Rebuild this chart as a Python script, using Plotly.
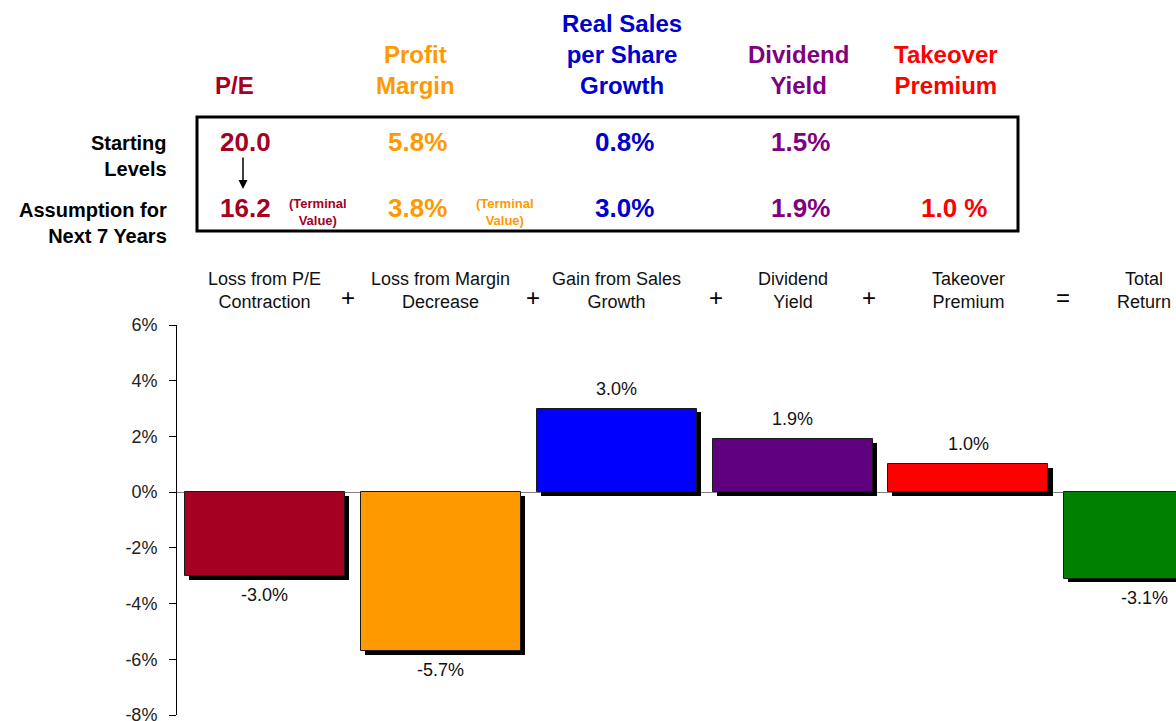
import plotly.graph_objects as go

# ---------------- data ----------------
categories = ["Loss from P/E<br>Contraction", "Loss from Margin<br>Decrease",
              "Gain from Sales<br>Growth", "Dividend<br>Yield",
              "Takeover<br>Premium", "Total<br>Return"]
values = [-3.0, -5.7, 3.0, 1.9, 1.0, -3.1]
value_labels = ["-3.0%", "-5.7%", "3.0%", "1.9%", "1.0%", "-3.1%"]
bar_colors = ["#A50021", "#FF9900", "#0000FF", "#5F007F", "#FF0000", "#008000"]
operators = ["+", "+", "+", "+", "="]

y_ticks = [6, 4, 2, 0, -2, -4, -6, -8]
y_tick_text = ["6%", "4%", "2%", "0%", "-2%", "-4%", "-6%", "-8%"]

table_headers = ["P/E", "Profit<br>Margin", "Real Sales<br>per Share<br>Growth",
                 "Dividend<br>Yield", "Takeover<br>Premium"]
table_colors = ["#A50021", "#FF9900", "#0000CC", "#800080", "#FF0000"]
starting_levels = ["20.0", "5.8%", "0.8%", "1.5%", ""]
assumptions = ["16.2", "3.8%", "3.0%", "1.9%", "1.0 %"]
row_labels = ["Starting<br>Levels", "Assumption for<br>Next 7 Years"]
terminal_note = "(Terminal<br>Value)"

# ---------------- layout geometry (pixels) ----------------
W, H = 1176, 721
L, R, T, B = 177, 0, 325, 6
PW, PH = W - L - R, H - T - B

def px(x):
    return (x - L) / PW

def py(y):
    return (H - B - y) / PH

FONT = "Liberation Sans, Arial, sans-serif"
x_idx = list(range(len(categories)))

fig = go.Figure()

# shadows
fig.add_trace(go.Bar(
    x=[i + 0.023 for i in x_idx], y=values, base=-0.14, width=0.91,
    marker=dict(color="#000000", line=dict(width=0)),
    hoverinfo="skip", showlegend=False))
# bars
fig.add_trace(go.Bar(
    x=x_idx, y=values, width=0.91,
    marker=dict(color=bar_colors, line=dict(color="#1a1a1a", width=1)),
    showlegend=False))

ann = []
# value labels
for i, (v, t) in enumerate(zip(values, value_labels)):
    ann.append(dict(x=i, y=v, xref="x", yref="y", text=t, showarrow=False,
                    xanchor="center",
                    yanchor="bottom" if v >= 0 else "top",
                    yshift=8 if v >= 0 else -7,
                    font=dict(family=FONT, size=18, color="#111111")))
# category headers
for i, c in enumerate(categories):
    ann.append(dict(x=i, y=py(290), xref="x", yref="paper", text=c, showarrow=False,
                    xanchor="center", yanchor="middle",
                    font=dict(family=FONT, size=18, color="#111111")))
# operators
op_px = [348, 533, 716, 869, 1063]
for o, xp in zip(operators, op_px):
    ann.append(dict(x=px(xp), y=py(297), xref="paper", yref="paper", text=o,
                    showarrow=False, xanchor="center", yanchor="middle",
                    font=dict(family=FONT, size=24, color="#000000")))

# table headers
hdr_x = [234, 415, 622, 798, 946]
hdr_y = [86, 70, 54, 70, 70]
for t, c, xp, yp in zip(table_headers, table_colors, hdr_x, hdr_y):
    ann.append(dict(x=px(xp), y=py(yp), xref="paper", yref="paper", text="<b>%s</b>" % t,
                    showarrow=False, xanchor="center", yanchor="middle",
                    font=dict(family=FONT, size=24, color=c)))
# row labels
for t, yp in zip(row_labels, [156, 223]):
    ann.append(dict(x=px(169), y=py(yp), xref="paper", yref="paper", text="<b>%s</b>" % t,
                    showarrow=False, xanchor="right", align="right", yanchor="middle",
                    font=dict(family=FONT, size=20, color="#000000")))
# values
val_x = [245, 417, 624, 800, 954]
for vals, yp in [(starting_levels, 142), (assumptions, 208)]:
    for t, c, xp in zip(vals, table_colors, val_x):
        if not t:
            continue
        ann.append(dict(x=px(xp), y=py(yp), xref="paper", yref="paper",
                        text="<b>%s</b>" % t, showarrow=False,
                        xanchor="center", yanchor="middle",
                        font=dict(family=FONT, size=26, color=c)))
# terminal value notes
for xp, c in [(318, table_colors[0]), (505, table_colors[1])]:
    ann.append(dict(x=px(xp), y=py(212), xref="paper", yref="paper",
                    text="<b>%s</b>" % terminal_note, showarrow=False,
                    xanchor="center", yanchor="middle",
                    font=dict(family=FONT, size=13, color=c)))
# arrow 20.0 -> 16.2
ann.append(dict(x=px(243), y=py(189), xref="paper", yref="paper", text="",
                showarrow=True, ax=0, ay=-33, arrowhead=2, arrowsize=1.2,
                arrowwidth=1.5, arrowcolor="#000000"))

shapes = [dict(type="rect", xref="paper", yref="paper",
               x0=px(197), x1=px(1018), y0=py(231), y1=py(117),
               line=dict(color="#000000", width=3))]

fig.update_layout(
    width=W, height=H,
    margin=dict(l=L, r=R, t=T, b=B, autoexpand=False),
    paper_bgcolor="white", plot_bgcolor="white",
    barmode="overlay", bargap=0,
    annotations=ann, shapes=shapes,
    xaxis=dict(range=[-0.5, 5.18], showticklabels=False, showgrid=False,
               zeroline=False, showline=False, ticks="", automargin=False),
    yaxis=dict(range=[-8, 6], tickvals=y_ticks, ticktext=y_tick_text,
               showgrid=False, zeroline=True, zerolinecolor="#808080", zerolinewidth=1,
               showline=True, linecolor="#000000", linewidth=1,
               ticks="outside", ticklen=7, tickcolor="#000000",
               ticklabelstandoff=8, ticklabeloverflow="allow", automargin=False,
               tickfont=dict(family=FONT, size=18, color="#222222")),
    showlegend=False,
)

fig.write_html("out.html", config={"displayModeBar": False},
               post_script="document.body.style.margin='0';document.body.style.overflow='hidden';")
